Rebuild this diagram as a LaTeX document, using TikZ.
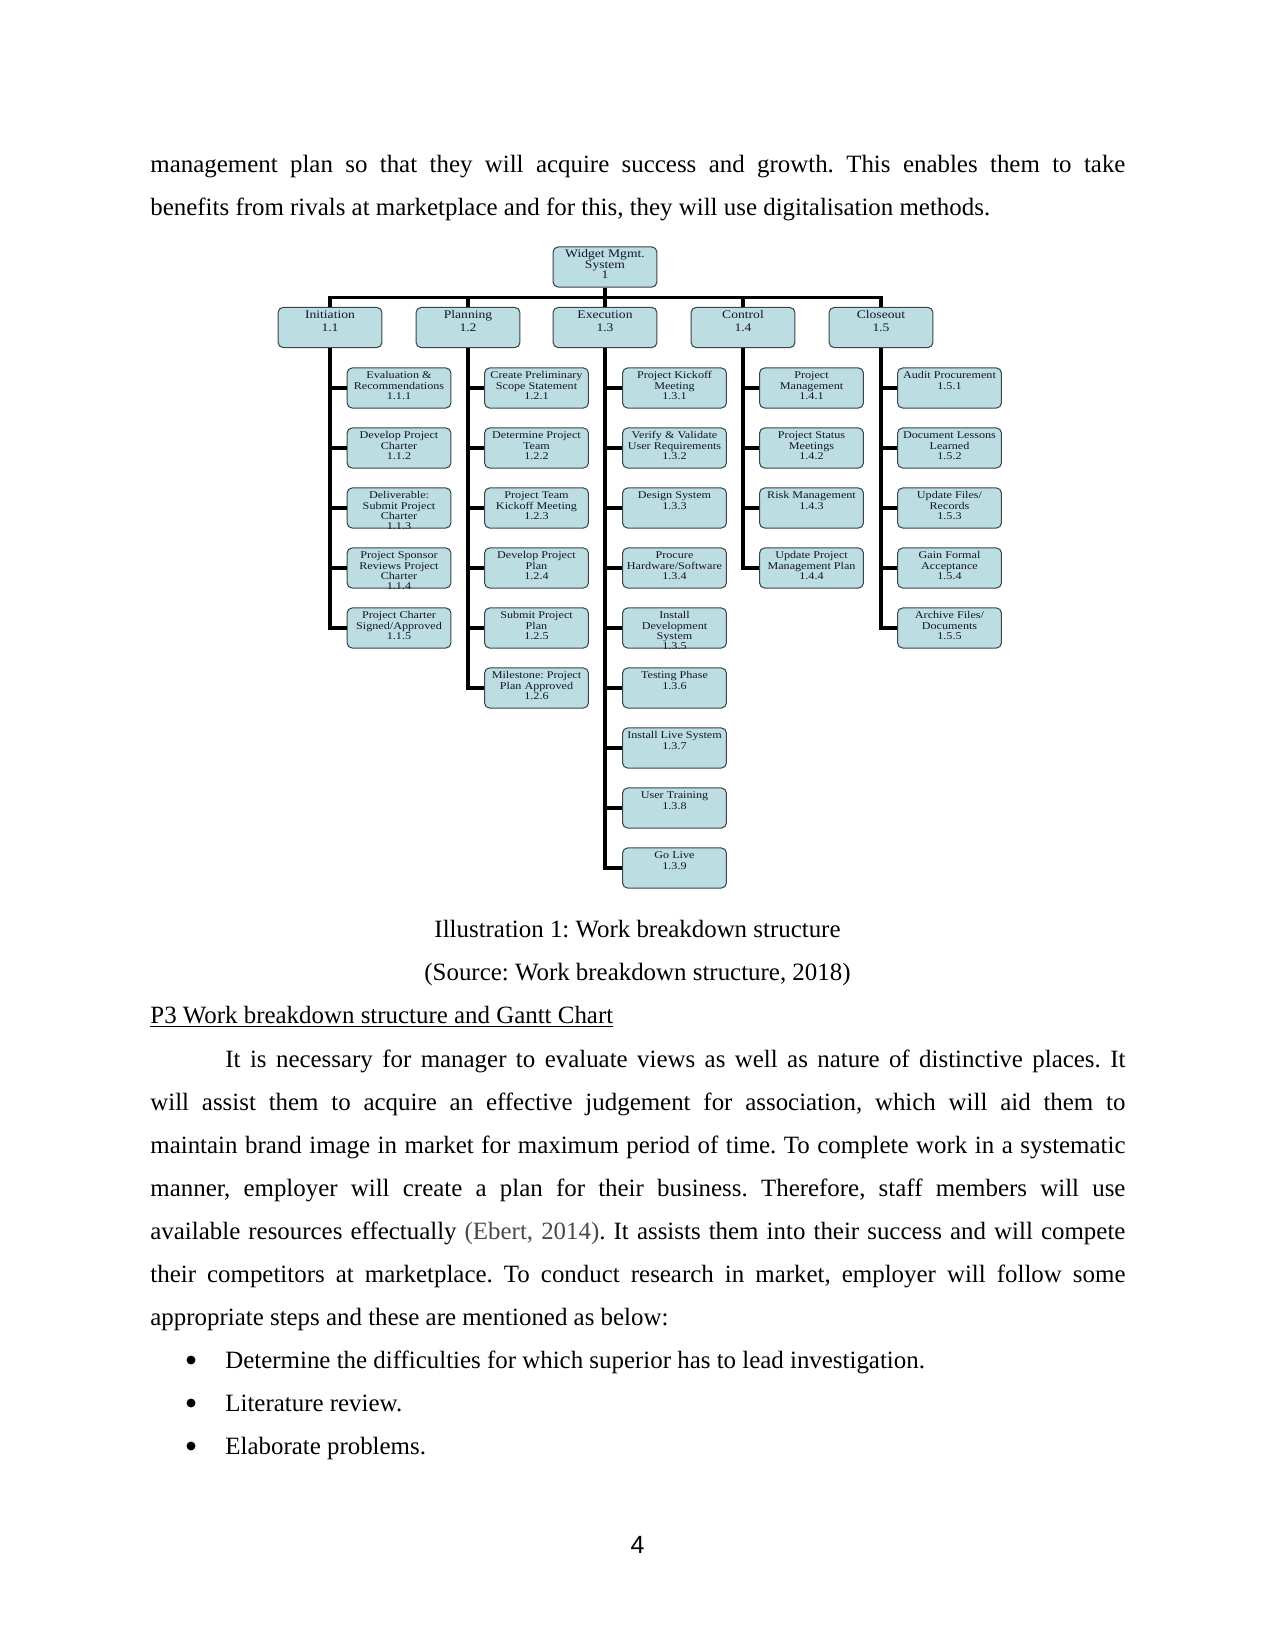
\documentclass[tikz,border=0pt]{standalone}
\usepackage{fontspec}
\setmainfont{Liberation Serif}
\newfontfamily\pagenumfont{Liberation Sans}
\newfontfamily\wbsfont[FakeStretch=1.17]{Liberation Serif}
\usepackage{xcolor}
\usepackage{tikz}
\usetikzlibrary{positioning}
\definecolor{wbsFill}{HTML}{BCDEE3}
\definecolor{wbsEdge}{HTML}{3A4447}
\definecolor{wbsInk}{HTML}{15152A}
\definecolor{wbsCite}{HTML}{4A4A4A}
\frenchspacing
\newcommand{\wbslabel}[1]{\parbox[c][19.3pt][t]{50pt}{\centering\lineskiplimit=-10pt\rule{0pt}{5.3pt}#1}}
\tikzset{
  wbs page/.style={x=0.4818pt, y=-0.4818pt},
  wbs body/.style={font=\fontsize{12}{14}\selectfont, inner sep=0pt, anchor=base west},
  wbs centred/.style={wbs body, anchor=base},
  wbs bullet/.style={circle, fill=black, inner sep=0pt, minimum size=4.3pt},
  wbs box/.style={draw=wbsEdge, fill=wbsFill, line width=0.5pt,
    rounded corners=2.4pt, inner sep=0pt, text=wbsInk},
  wbs root/.style={wbs box, font=\wbsfont\fontsize{5.6}{4.95}\selectfont},
  wbs phase/.style={wbs box, font=\wbsfont\fontsize{5.6}{6.1}\selectfont},
  wbs task/.style={wbs box, font=\wbsfont\fontsize{5}{4.95}\selectfont},
  wbs link/.style={draw=black, line width=1.5pt}
}

\begin{document}
\begin{tikzpicture}[wbs page]
\fill[white] (0,0) rectangle (1275,1650);
\useasboundingbox (0,0) rectangle (1275,1650);

% text above the figure
\node[wbs body] (top1) at (150,173) {\makebox[6.5in][s]{management plan so that they will acquire success and growth. This enables them to take}};
\node[wbs body] (top2) at (150,216) {benefits from rivals at marketplace and for this, they will use digitalisation methods.};

% work breakdown structure
\node[wbs root] (root) at (605,267) {\wbslabel{Widget Mgmt.\\System\\1}};
\foreach \i/\x/\name in {1/330/Initiation,2/468/Planning,3/605/Execution,4/743/Control,5/881/Closeout}{
  \node[wbs phase] (p\i) at (\x,327.5) {\wbslabel{\name\\1.\i}};
  \draw[wbs link] (root.south) -- ++(0,10) -| (p\i.north);
}
\foreach \i/\lab in {1/{Evaluation \&\\Recommendations\\1.1.1},2/{Develop Project\\Charter\\1.1.2},
    3/{Deliverable:\\Submit Project\\Charter\\1.1.3},4/{Project Sponsor\\Reviews Project\\Charter\\1.1.4},
    5/{Project Charter\\Signed/Approved\\1.1.5}}{
  \node[wbs task] (t1-\i) at (399,328+60*\i) {\wbslabel{\lab}};
  \draw[wbs link] (p1.south) |- (t1-\i.west);
}
\foreach \i/\lab in {1/{Create Preliminary\\Scope Statement\\1.2.1},2/{Determine Project\\Team\\1.2.2},
    3/{Project Team\\Kickoff Meeting\\1.2.3},4/{Develop Project\\Plan\\1.2.4},
    5/{Submit Project\\Plan\\1.2.5},6/{Milestone: Project\\Plan Approved\\1.2.6}}{
  \node[wbs task] (t2-\i) at (536.5,328+60*\i) {\wbslabel{\lab}};
  \draw[wbs link] (p2.south) |- (t2-\i.west);
}
\foreach \i/\lab in {1/{Project Kickoff\\Meeting\\1.3.1},2/{Verify \& Validate\\User Requirements\\1.3.2},
    3/{Design System\\1.3.3},4/{Procure\\Hardware/Software\\1.3.4},
    5/{Install\\Development\\System\\1.3.5},6/{Testing Phase\\1.3.6},
    7/{Install Live System\\1.3.7},8/{User Training\\1.3.8},9/{Go Live\\1.3.9}}{
  \node[wbs task] (t3-\i) at (674.5,328+60*\i) {\wbslabel{\lab}};
  \draw[wbs link] (p3.south) |- (t3-\i.west);
}
\foreach \i/\lab in {1/{Project\\Management\\1.4.1},2/{Project Status\\Meetings\\1.4.2},
    3/{Risk Management\\1.4.3},4/{Update Project\\Management Plan\\1.4.4}}{
  \node[wbs task] (t4-\i) at (811.5,328+60*\i) {\wbslabel{\lab}};
  \draw[wbs link] (p4.south) |- (t4-\i.west);
}
\foreach \i/\lab in {1/{Audit Procurement\\1.5.1},2/{Document Lessons\\Learned\\1.5.2},
    3/{Update Files/\\Records\\1.5.3},4/{Gain Formal\\Acceptance\\1.5.4},
    5/{Archive Files/\\Documents\\1.5.5}}{
  \node[wbs task] (t5-\i) at (949.5,328+60*\i) {\wbslabel{\lab}};
  \draw[wbs link] (p5.south) |- (t5-\i.west);
}

% caption and following text
\node[wbs centred] (cap1) at (637.5,937) {Illustration 1: Work breakdown structure};
\node[wbs centred] (cap2) at (637.5,980) {(Source: Work breakdown structure, 2018)};
\node[wbs body] (head) at (150,1023) {\underline{P3 Work breakdown structure and Gantt Chart}};
\node[wbs body] (par1) at (225,1067) {\makebox[6in][s]{It is necessary for manager to evaluate views as well as nature of distinctive places. It}};
\node[wbs body] (par2) at (150,1110) {\makebox[6.5in][s]{will assist them to acquire an effective judgement for association, which will aid them to}};
\node[wbs body] (par3) at (150,1153) {\makebox[6.5in][s]{maintain brand image in market for maximum period of time. To complete work in a systematic}};
\node[wbs body] (par4) at (150,1196) {\makebox[6.5in][s]{manner, employer will create a plan for their business. Therefore, staff members will use}};
\node[wbs body] (par5) at (150,1239) {\makebox[6.5in][s]{available resources effectually {\color{wbsCite}(Ebert, 2014)}. It assists them into their success and will compete}};
\node[wbs body] (par6) at (150,1282) {\makebox[6.5in][s]{their competitors at marketplace. To conduct research in market, employer will follow some}};
\node[wbs body] (par7) at (150,1325) {appropriate steps and these are mentioned as below:};
\foreach \i/\y/\item in {1/1368/Determine the difficulties for which superior has to lead investigation.,
    2/1411/Literature review.,3/1454/Elaborate problems.}{
  \node[wbs bullet] (dot\i) at (191,\y-8) {};
  \node[wbs body] (item\i) at (225,\y) {\item};
}
\node[wbs centred, font=\pagenumfont\fontsize{12}{14}\selectfont] (pnum) at (637.5,1553) {4};
\end{tikzpicture}
\end{document}
